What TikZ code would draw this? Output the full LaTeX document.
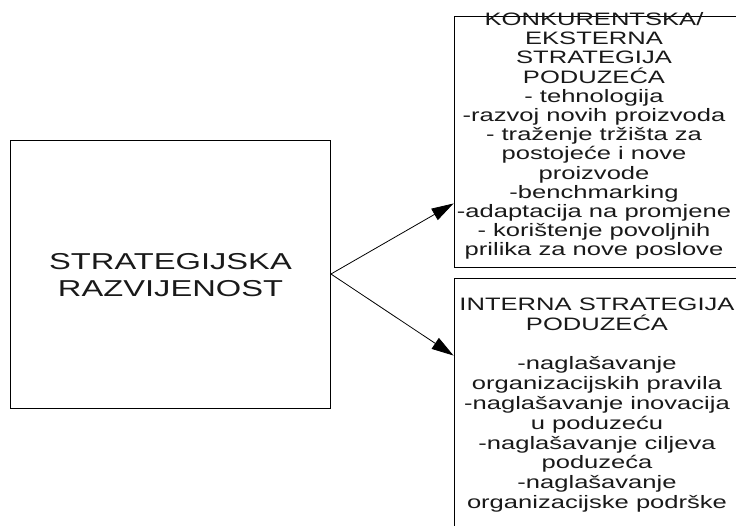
\documentclass[tikz,border=0pt]{standalone}
\usepackage{fontspec}
\setmainfont{Liberation Sans}[FakeStretch=1.42]
\usetikzlibrary{arrows.meta}
\begin{document}
\begin{tikzpicture}[x=1pt,y=-1pt,
  box/.style={draw=black,line width=0.9pt,inner sep=0pt},
  conn/.style={line width=0.8pt,-{Triangle[length=22pt,width=13pt]}},
  bigtext/.style={align=center,font=\fontsize{23}{26.5}\selectfont,text=black!90},
  smalltext/.style={align=center,font=\fontsize{18}{19.2}\selectfont,text=black!90}]
\useasboundingbox (0,0) rectangle (736,525);
\clip (0,0) rectangle (736,525);
\node[box,minimum width=320pt,minimum height=268pt] (main) at (170.5,274) {};
\node[box,minimum width=294pt,minimum height=251pt] (ext) at (601,141.5) {};
\node[box,minimum width=294pt,minimum height=267pt] (int) at (601,411.5) {};
\node[bigtext] (maintext) at (170.5,275) {STRATEGIJSKA\\RAZVIJENOST};
\node[smalltext] (exttext) at (594,136) {KONKURENTSKA/\\EKSTERNA\\STRATEGIJA\\PODUZEĆA\\- tehnologija\\-razvoj novih proizvoda\\- traženje tržišta za\\postojeće i nove\\proizvode\\-benchmarking\\-adaptacija na promjene\\- korištenje povoljnih\\prilika za nove poslove};
\node[smalltext,font=\fontsize{18}{19.8}\selectfont] (inttext) at (597,405) {INTERNA STRATEGIJA\\PODUZEĆA\\[19.8pt]-naglašavanje\\organizacijskih pravila\\-naglašavanje inovacija\\u poduzeću\\-naglašavanje ciljeva\\poduzeća\\-naglašavanje\\organizacijske podrške};
\draw[conn] (main.east) -- ([yshift=64pt]ext.south west);
\draw[conn] (main.east) -- ([yshift=-78pt]int.north west);
\end{tikzpicture}
\end{document}
